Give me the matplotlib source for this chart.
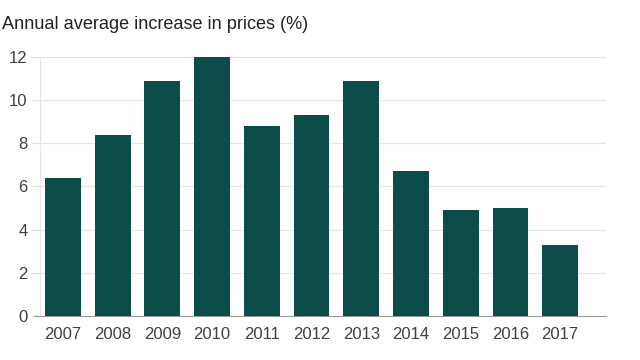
import matplotlib
matplotlib.use("Agg")
import matplotlib.pyplot as plt

years = ["2007", "2008", "2009", "2010", "2011", "2012", "2013", "2014", "2015", "2016", "2017"]
increase = [6.4, 8.4, 10.9, 12.0, 8.8, 9.3, 10.9, 6.7, 4.9, 5.0, 3.3]

plt.rcParams['font.family'] = ['Liberation Sans', 'DejaVu Sans']

fig = plt.figure(figsize=(6.4, 3.6), dpi=100)
ax = fig.add_axes([0.0625, 0.122, 0.885, 0.72])

x = range(len(years))
ax.bar(x, increase, width=0.72, color="#0b4c48", zorder=3)

ax.set_xlim(-0.46, 10.93)
ax.set_ylim(0, 12)
ax.set_yticks([0, 2, 4, 6, 8, 10, 12])
ax.set_xticks(list(x))
ax.set_xticklabels(years)
ax.grid(axis="y", color="#e5e5e5", linewidth=0.9, zorder=0)
ax.tick_params(axis="both", labelsize=12, labelcolor="#404040")
ax.tick_params(axis="x", length=0, pad=8)
ax.tick_params(axis="y", length=6, width=0.9, color="#e0e0e0", pad=3)

for side in ["top", "right"]:
    ax.spines[side].set_visible(False)
ax.spines["left"].set_color("#e5e5e5")
ax.spines["bottom"].set_color("#999999")
ax.spines["bottom"].set_bounds(-0.46 - 6 / 49.7, 10.93)
ax.spines["bottom"].set_clip_on(False)

fig.text(0.003, 0.932, "Annual average increase in prices (%)", fontsize=13.1,
         color="#222222", va="center", ha="left")

fig.savefig("out.png", dpi=100)
